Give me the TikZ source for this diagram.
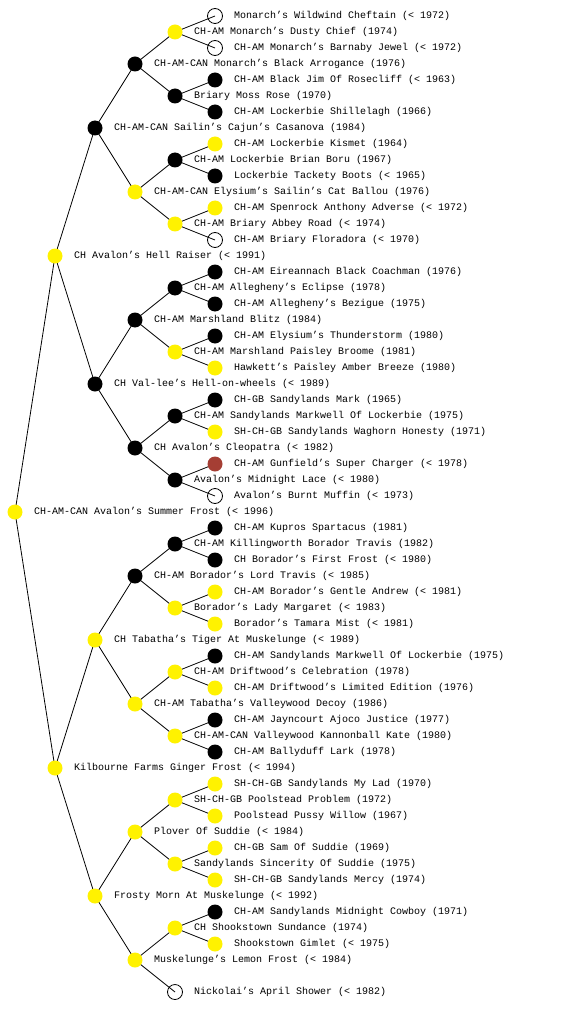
\documentclass[tikz,border=0pt]{standalone}
\usepackage{fontspec}
\newfontfamily\pedfont{Liberation Mono}
\usetikzlibrary{backgrounds}
\definecolor{dogred}{RGB}{165,62,52}
\tikzset{
  dot/.style={circle,inner sep=0pt,minimum size=15pt},
  yel/.style={dot,fill=yellow},
  blk/.style={dot,fill=black},
  wht/.style={dot,draw=black,line width=0.8pt,minimum size=15pt},
  rdd/.style={dot,fill=dogred},
  lbl/.style={anchor=west,inner sep=0pt,font=\pedfont\fontsize{10}{12}\selectfont,text=black},
  edge/.style={draw=black,line width=0.8pt}
}
\newcommand\pn[5]{%
  \node[#4] (n#1) at ({15+40*#2},{-16*#3}) {};
  \node[lbl] (t#1) at ({15+40*#2+19},{-16*#3}) {#5};}
\begin{document}
\begin{tikzpicture}[x=1pt,y=1pt]
\useasboundingbox (0,0) rectangle (560,-1024);
\pn{1}{5}{1}{wht}{Monarch’s Wildwind Cheftain (< 1972)}
\pn{2}{4}{2}{yel}{CH-AM Monarch’s Dusty Chief (1974)}
\pn{3}{5}{3}{wht}{CH-AM Monarch’s Barnaby Jewel (< 1972)}
\pn{4}{3}{4}{blk}{CH-AM-CAN Monarch’s Black Arrogance (1976)}
\pn{5}{5}{5}{blk}{CH-AM Black Jim Of Rosecliff (< 1963)}
\pn{6}{4}{6}{blk}{Briary Moss Rose (1970)}
\pn{7}{5}{7}{blk}{CH-AM Lockerbie Shillelagh (1966)}
\pn{8}{2}{8}{blk}{CH-AM-CAN Sailin’s Cajun’s Casanova (1984)}
\pn{9}{5}{9}{yel}{CH-AM Lockerbie Kismet (1964)}
\pn{10}{4}{10}{blk}{CH-AM Lockerbie Brian Boru (1967)}
\pn{11}{5}{11}{blk}{Lockerbie Tackety Boots (< 1965)}
\pn{12}{3}{12}{yel}{CH-AM-CAN Elysium’s Sailin’s Cat Ballou (1976)}
\pn{13}{5}{13}{yel}{CH-AM Spenrock Anthony Adverse (< 1972)}
\pn{14}{4}{14}{yel}{CH-AM Briary Abbey Road (< 1974)}
\pn{15}{5}{15}{wht}{CH-AM Briary Floradora (< 1970)}
\pn{16}{1}{16}{yel}{CH Avalon’s Hell Raiser (< 1991)}
\pn{17}{5}{17}{blk}{CH-AM Eireannach Black Coachman (1976)}
\pn{18}{4}{18}{blk}{CH-AM Allegheny’s Eclipse (1978)}
\pn{19}{5}{19}{blk}{CH-AM Allegheny’s Bezigue (1975)}
\pn{20}{3}{20}{blk}{CH-AM Marshland Blitz (1984)}
\pn{21}{5}{21}{blk}{CH-AM Elysium’s Thunderstorm (1980)}
\pn{22}{4}{22}{yel}{CH-AM Marshland Paisley Broome (1981)}
\pn{23}{5}{23}{yel}{Hawkett’s Paisley Amber Breeze (1980)}
\pn{24}{2}{24}{blk}{CH Val-lee’s Hell-on-wheels (< 1989)}
\pn{25}{5}{25}{blk}{CH-GB Sandylands Mark (1965)}
\pn{26}{4}{26}{blk}{CH-AM Sandylands Markwell Of Lockerbie (1975)}
\pn{27}{5}{27}{yel}{SH-CH-GB Sandylands Waghorn Honesty (1971)}
\pn{28}{3}{28}{blk}{CH Avalon’s Cleopatra (< 1982)}
\pn{29}{5}{29}{rdd}{CH-AM Gunfield’s Super Charger (< 1978)}
\pn{30}{4}{30}{blk}{Avalon’s Midnight Lace (< 1980)}
\pn{31}{5}{31}{wht}{Avalon’s Burnt Muffin (< 1973)}
\pn{32}{0}{32}{yel}{CH-AM-CAN Avalon’s Summer Frost (< 1996)}
\pn{33}{5}{33}{blk}{CH-AM Kupros Spartacus (1981)}
\pn{34}{4}{34}{blk}{CH-AM Killingworth Borador Travis (1982)}
\pn{35}{5}{35}{blk}{CH Borador’s First Frost (< 1980)}
\pn{36}{3}{36}{blk}{CH-AM Borador’s Lord Travis (< 1985)}
\pn{37}{5}{37}{yel}{CH-AM Borador’s Gentle Andrew (< 1981)}
\pn{38}{4}{38}{yel}{Borador’s Lady Margaret (< 1983)}
\pn{39}{5}{39}{yel}{Borador’s Tamara Mist (< 1981)}
\pn{40}{2}{40}{yel}{CH Tabatha’s Tiger At Muskelunge (< 1989)}
\pn{41}{5}{41}{blk}{CH-AM Sandylands Markwell Of Lockerbie (1975)}
\pn{42}{4}{42}{yel}{CH-AM Driftwood’s Celebration (1978)}
\pn{43}{5}{43}{yel}{CH-AM Driftwood’s Limited Edition (1976)}
\pn{44}{3}{44}{yel}{CH-AM Tabatha’s Valleywood Decoy (1986)}
\pn{45}{5}{45}{blk}{CH-AM Jayncourt Ajoco Justice (1977)}
\pn{46}{4}{46}{yel}{CH-AM-CAN Valleywood Kannonball Kate (1980)}
\pn{47}{5}{47}{blk}{CH-AM Ballyduff Lark (1978)}
\pn{48}{1}{48}{yel}{Kilbourne Farms Ginger Frost (< 1994)}
\pn{49}{5}{49}{yel}{SH-CH-GB Sandylands My Lad (1970)}
\pn{50}{4}{50}{yel}{SH-CH-GB Poolstead Problem (1972)}
\pn{51}{5}{51}{yel}{Poolstead Pussy Willow (1967)}
\pn{52}{3}{52}{yel}{Plover Of Suddie (< 1984)}
\pn{53}{5}{53}{yel}{CH-GB Sam Of Suddie (1969)}
\pn{54}{4}{54}{yel}{Sandylands Sincerity Of Suddie (1975)}
\pn{55}{5}{55}{yel}{SH-CH-GB Sandylands Mercy (1974)}
\pn{56}{2}{56}{yel}{Frosty Morn At Muskelunge (< 1992)}
\pn{57}{5}{57}{blk}{CH-AM Sandylands Midnight Cowboy (1971)}
\pn{58}{4}{58}{yel}{CH Shookstown Sundance (1974)}
\pn{59}{5}{59}{yel}{Shookstown Gimlet (< 1975)}
\pn{60}{3}{60}{yel}{Muskelunge’s Lemon Frost (< 1984)}
\pn{62}{4}{62}{wht}{Nickolai’s April Shower (< 1982)}
\begin{pgfonlayer}{background}
\fill[white] (0,0) rectangle (560,-1024);
\foreach \a/\b in {32/16,32/48,16/8,16/24,48/40,48/56,
  8/4,8/12,24/20,24/28,40/36,40/44,56/52,56/60,
  4/2,4/6,12/10,12/14,20/18,20/22,28/26,28/30,36/34,36/38,44/42,44/46,52/50,52/54,60/58,60/62,
  2/1,2/3,6/5,6/7,10/9,10/11,14/13,14/15,18/17,18/19,22/21,22/23,26/25,26/27,30/29,30/31,
  34/33,34/35,38/37,38/39,42/41,42/43,46/45,46/47,50/49,50/51,54/53,54/55,58/57,58/59}
  \draw[edge] (n\a.center) -- (n\b.center);
\end{pgfonlayer}
\end{tikzpicture}
\end{document}
